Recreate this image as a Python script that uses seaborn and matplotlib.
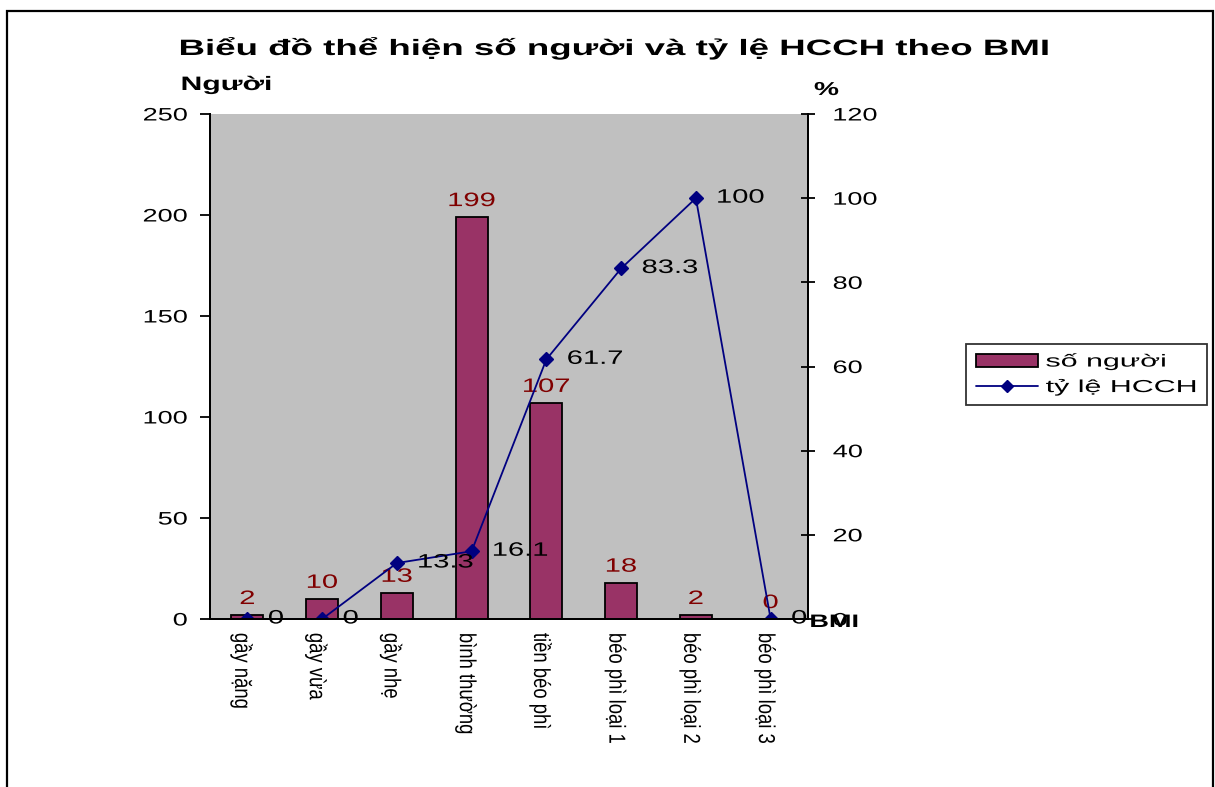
import matplotlib
matplotlib.use("Agg")
import matplotlib.pyplot as plt
import seaborn as sns
import pandas as pd
from matplotlib.patches import Rectangle
from matplotlib.lines import Line2D
from matplotlib.patheffects import AbstractPathEffect
from matplotlib.transforms import Affine2D

categories = ["gầy nặng", "gầy vừa", "gầy nhẹ", "bình thường", "tiền béo phì",
              "béo phì loại 1", "béo phì loại 2", "béo phì loại 3"]
so_nguoi = [2, 10, 13, 199, 107, 18, 2, 0]
ty_le = [0, 0, 13.3, 16.1, 61.7, 83.3, 100, 0]
ty_le_labels = ["0", "0", "13.3", "16.1", "61.7", "83.3", "100", "0"]
series_names = ["số người", "tỷ lệ HCCH"]
title = "Biểu đồ thể hiện số người và tỷ lệ HCCH theo BMI"

BAR_COLOR = "#993366"
LINE_COLOR = "#000080"
LABEL_RED = "#800000"


class Stretch(AbstractPathEffect):
    """Horizontally stretch rendered text (the reference image is widened)."""
    def __init__(self, sx=1.5, anchor="center", dx=0.0):
        super().__init__()
        self.sx, self.anchor, self.dx = sx, anchor, dx

    def draw_path(self, renderer, gc, tpath, affine, rgbFace=None):
        bb = tpath.get_extents(affine)
        if self.anchor == "left":
            px = bb.x0
        elif self.anchor == "right":
            px = bb.x1
        else:
            px = 0.5 * (bb.x0 + bb.x1)
        t = affine + Affine2D().translate(-px, 0).scale(self.sx, 1).translate(px + self.dx, 0)
        renderer.draw_path(gc, tpath, t, rgbFace)


sns.set_theme(style="white")
plt.rcParams["font.family"] = ["Liberation Sans", "DejaVu Sans"]
for k in ("text.color", "axes.labelcolor", "xtick.color", "ytick.color", "axes.edgecolor"):
    plt.rcParams[k] = "black"

df = pd.DataFrame({"cat": categories, "n": so_nguoi, "rate": ty_le})

fig = plt.figure(figsize=(12.15, 7.87), dpi=100)
fig.patch.set_facecolor("white")
fig.add_artist(Rectangle((7/1215, -0.05), (1213-7)/1215, 1 - 11/787 + 0.05,
                         transform=fig.transFigure, fill=False, edgecolor="black", lw=1.6))

ax = fig.add_axes([210/1215, 1-619/787, 598/1215, (619-114)/787])
ax.set_facecolor("#C0C0C0")
sns.barplot(data=df, x="cat", y="n", ax=ax, color=BAR_COLOR, width=0.43,
            edgecolor="black", linewidth=1.3, saturation=1)
ax.set_ylim(0, 250)
ax.set_yticks(range(0, 251, 50))
ax.set_xlim(-0.5, 7.5)
ax.set_xlabel("")
ax.set_ylabel("")
bar_texts = []
for c in ax.containers:
    bar_texts += ax.bar_label(c, padding=5, color=LABEL_RED, fontsize=14)

ax2 = ax.twinx()
sns.pointplot(data=df, x="cat", y="rate", ax=ax2, color=LINE_COLOR, markers="D",
              markersize=7.5, linewidth=1.3)
ax2.set_ylim(0, 120)
ax2.set_yticks(range(0, 121, 20))
ax2.set_xlim(-0.5, 7.5)
ax2.set_ylabel("")
ax2.set_xlabel("")
line_texts = []
for i, (v, lab) in enumerate(zip(ty_le, ty_le_labels)):
    line_texts.append(ax2.annotate(lab, (i, v), xytext=(15, 0), textcoords="offset points",
                                   ha="left", va="center", fontsize=14, color="black"))

for a in (ax, ax2):
    a.spines["top"].set_visible(False)
    for s in ("left", "right", "bottom"):
        a.spines[s].set_color("black")
        a.spines[s].set_linewidth(1.4)

ax.set_xticks([i - 0.5 for i in range(9)], minor=True)
ax.set_xticks(range(8))
ax.set_xticklabels(categories, rotation=270, ha="center", va="top", fontsize=13.3)
ax.tick_params(axis="x", which="major", length=0, pad=10)
ax.tick_params(axis="x", which="minor", direction="inout", length=8.6, width=1.3, color="black")
ax.tick_params(axis="y", direction="out", length=7.2, width=1.3, color="black",
               labelsize=13, left=True, pad=9)
ax2.tick_params(axis="y", direction="inout", length=10, width=1.3, color="black",
                labelsize=13, right=True, pad=13)

# texts stretched like the reference
for t in ax.get_xticklabels():
    t.set_path_effects([Stretch(1.25, "center", dx=-6)])
for t in ax.get_yticklabels():
    t.set_path_effects([Stretch(1.5, "right")])
for t in ax2.get_yticklabels():
    t.set_path_effects([Stretch(1.5, "left")])
for t in bar_texts:
    t.set_path_effects([Stretch(1.5, "center")])
for t in line_texts:
    t.set_path_effects([Stretch(1.5, "left")])

fig.text(614/1215, 1-55/787, title, ha="center", va="baseline", fontsize=16,
         fontweight="bold", path_effects=[Stretch(1.65, "center")])
fig.text(226.5/1215, 1-90/787, "Người", ha="center", va="baseline", fontsize=14,
         fontweight="bold", path_effects=[Stretch(1.55, "center")])
fig.text(826.5/1215, 1-95/787, "%", ha="center", va="baseline", fontsize=13.5,
         fontweight="bold", path_effects=[Stretch(1.5, "center")])
fig.text(810/1215, 1-627/787, "BMI", ha="left", va="baseline", fontsize=13,
         fontweight="bold", path_effects=[Stretch(1.5, "left")])

LEG_SX = 1.75
handles = [Rectangle((0, 0), 1, 1, facecolor=BAR_COLOR, edgecolor="black", lw=1.3),
           Line2D([0], [0], color=LINE_COLOR, marker="D", markersize=6.5, lw=1.3)]
leg = fig.legend(handles, series_names, loc="upper left",
                 bbox_to_anchor=(966/1215, 1-344/787), borderaxespad=0,
                 fontsize=12.5, frameon=True, fancybox=False, edgecolor="black",
                 handlelength=3.6, handletextpad=0.45, borderpad=0.55, labelspacing=0.55)
leg.get_frame().set_linewidth(1.3)
for t in leg.get_texts():
    t.set_path_effects([Stretch(LEG_SX, "left")])

frame = leg.get_frame()
_orig_set_bounds = frame.set_bounds


def _widened(*args):
    x, y, w, h = args[0] if len(args) == 1 else args
    extra = max(t.get_window_extent().width for t in leg.get_texts()) * (LEG_SX - 1)
    _orig_set_bounds(x, y, w + extra, h)


frame.set_bounds = _widened

fig.savefig("out.png", dpi=100)
